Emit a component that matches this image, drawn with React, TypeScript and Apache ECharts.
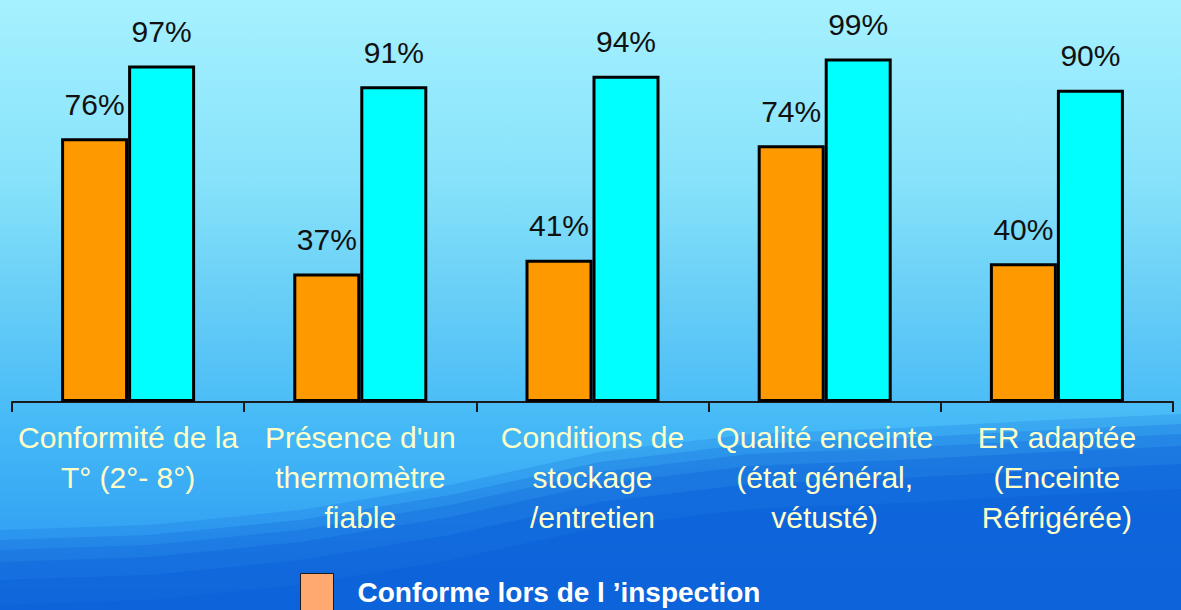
import React, { useEffect, useRef } from "react";
import * as echarts from "echarts";

const categories = [
  "Conformité de la\nT° (2°- 8°)",
  "Présence d'un\nthermomètre\nfiable",
  "Conditions de\nstockage\n/entretien",
  "Qualité enceinte\n(état général,\nvétusté)",
  "ER adaptée\n(Enceinte\nRéfrigérée)",
];
const seriesInspection = [76, 37, 41, 74, 40];
const seriesAfter = [97, 91, 94, 99, 90];
const seriesNames = ["Conforme lors de l ’inspection", "Conforme après l ’inspection"];

function wave(offset: number, alpha: number, z: number) {
  const base = [
    [0, 540], [150, 535], [300, 520], [450, 495], [600, 462],
    [750, 444], [900, 438], [1050, 430], [1181, 424],
  ];
  const pts = base.map(([x, y]) => [x, y + offset]);
  pts.push([1181, 610], [0, 610]);
  return {
    type: "polygon",
    z,
    silent: true,
    shape: { points: pts },
    style: { fill: `rgba(10,92,214,${alpha})` },
  };
}

export default function App() {
  const ref = useRef<HTMLDivElement>(null);
  useEffect(() => {
    if (!ref.current) return;
    const chart = echarts.init(ref.current, null, { renderer: "svg" });
    const font = "'Liberation Sans', Arial, sans-serif";
    chart.setOption({
      animation: false,
      backgroundColor: {
        type: "linear",
        x: 0, y: 0, x2: 0, y2: 1,
        colorStops: [
          { offset: 0, color: "#A6F1FF" },
          { offset: 0.3, color: "#86E2FA" },
          { offset: 0.5, color: "#66CDF6" },
          { offset: 0.7, color: "#45B9F7" },
          { offset: 0.85, color: "#36A6F4" },
          { offset: 1, color: "#2A8FEC" },
        ],
      },
      graphic: [
        wave(-10, 0.18, -10),
        wave(0, 0.22, -9),
        wave(10, 0.25, -8),
        wave(22, 0.3, -7),
        wave(40, 0.35, -6),
        wave(65, 0.35, -5),
      ],
      legend: {
        data: [seriesNames[0]],
        left: 300,
        top: 573,
        padding: 0,
        itemWidth: 33,
        itemHeight: 37,
        icon: "rect",
        itemStyle: { color: "#FFA970", borderColor: "#1a1a1a", borderWidth: 1 },
        textStyle: {
          color: "#FFFFFF",
          fontFamily: font,
          fontWeight: "bold",
          fontSize: 28,
          padding: [0, 0, 0, 19],
        },
      },
      grid: { left: 12, right: 8, top: 55, bottom: 208, containLabel: false },
      xAxis: {
        type: "category",
        data: categories,
        axisLine: { show: true, lineStyle: { color: "#1a1a1a", width: 2 } },
        axisTick: { show: true, length: 10, lineStyle: { color: "#1a1a1a", width: 2 } },
        axisLabel: {
          interval: 0,
          color: "#FFFFC8",
          fontFamily: font,
          fontSize: 30,
          lineHeight: 40,
          margin: 15,
          align: "center",
        },
      },
      yAxis: {
        type: "value",
        min: 0,
        max: 100,
        show: false,
        splitLine: { show: false },
      },
      series: [
        {
          name: seriesNames[0],
          type: "bar",
          data: seriesInspection,
          barWidth: 67,
          barGap: "0%",
          itemStyle: { color: "#FF9900", borderColor: "#000", borderWidth: 3 },
          label: {
            show: true,
            position: "top",
            distance: 19,
            formatter: "{c}%",
            color: "#111",
            fontFamily: font,
            fontSize: 30,
          },
        },
        {
          name: seriesNames[1],
          type: "bar",
          data: seriesAfter,
          barWidth: 67,
          barGap: "0%",
          itemStyle: { color: "#00FFFF", borderColor: "#000", borderWidth: 3 },
          label: {
            show: true,
            position: "top",
            distance: 19,
            formatter: "{c}%",
            color: "#111",
            fontFamily: font,
            fontSize: 30,
          },
        },
      ],
    });
    return () => chart.dispose();
  }, []);
  return (
    <div
      ref={ref}
      style={{ position: "fixed", left: 0, top: 0, width: 1181, height: 610 }}
    />
  );
}
